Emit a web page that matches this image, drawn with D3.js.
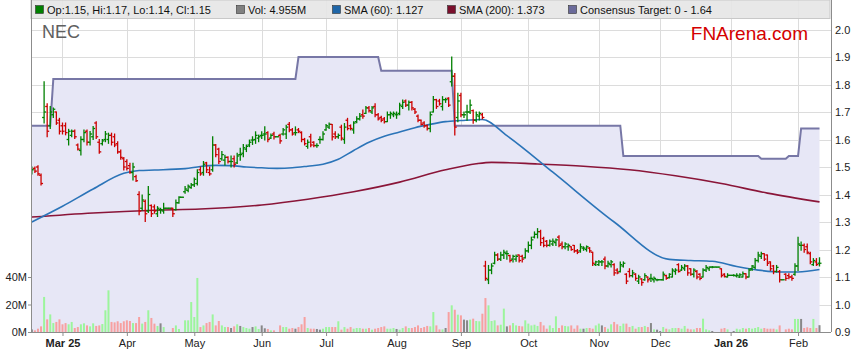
<!DOCTYPE html>
<html>
<head>
<meta charset="utf-8">
<script src="https://cdnjs.cloudflare.com/ajax/libs/d3/7.8.5/d3.min.js"></script>
<style>
  body { margin: 0; background: #fff; }
  svg { display: block; font-family: "Liberation Sans", Arial, sans-serif; }
</style>
</head>
<body>
<svg id="chart" width="859" height="363"></svg>
<script>
// one entry per weekday, 17 Feb 2025 .. 11 Feb 2026 (holidays flat, zero volume)
var opens = [
  1.49,1.495,1.50,1.47,1.68,1.72,1.65,1.69,1.70,1.67,
  1.65,1.65,1.60,1.615,1.63,1.58,1.56,1.60,1.63,1.59,1.61,1.66,1.59,1.585,1.60,1.60,1.615,1.61,1.585,1.555,1.53,
  1.52,1.505,1.48,1.465,1.40,1.35,1.375,1.34,1.36,1.355,1.33,1.345,1.34,1.35,1.35,1.35,1.345,1.37,1.39,1.41,1.415,1.425,
  1.435,1.44,1.49,1.48,1.515,1.48,1.49,1.58,1.565,1.53,1.525,1.535,1.52,1.53,1.515,1.545,1.55,1.565,1.58,1.598,1.60,1.605,
  1.615,1.62,1.625,1.605,1.62,1.61,1.615,1.62,1.62,1.655,1.635,1.625,1.635,1.625,1.60,1.575,1.61,1.59,1.578,1.60,1.60,
  1.635,1.645,1.655,1.62,1.61,1.645,1.60,1.67,1.65,1.635,1.665,1.675,1.69,1.695,1.715,1.70,1.72,1.69,1.68,1.675,1.665,1.69,1.69,
  1.69,1.695,1.72,1.74,1.725,1.735,1.71,1.685,1.67,1.66,1.65,1.64,1.70,1.745,1.74,1.72,1.745,1.75,1.81,1.83,1.68,
  1.76,1.69,1.70,1.70,1.705,1.67,1.685,1.69,1.14,1.09,1.125,1.15,1.18,1.165,1.18,1.185,1.178,1.165,1.165,1.18,1.175,1.17,
  1.195,1.215,1.245,1.255,1.265,1.24,1.23,1.215,1.22,1.225,1.245,1.22,1.21,1.21,1.21,1.215,1.195,1.195,1.205,1.20,1.205,1.19,1.145,
  1.145,1.155,1.165,1.14,1.145,1.145,1.125,1.12,1.14,1.11,1.12,1.105,1.11,1.085,1.093,1.09,1.10,1.095,1.09,1.09,
  1.09,1.09,1.105,1.098,1.10,1.12,1.145,1.125,1.13,1.14,1.13,1.11,1.12,1.11,1.10,1.125,1.13,1.136,1.136,1.136,1.13,1.11,1.10,
  1.106,1.106,1.104,1.10,1.10,1.112,1.10,1.13,1.135,1.16,1.175,1.185,1.18,1.155,1.14,1.12,1.12,1.09,1.11,1.105,1.10,1.11,
  1.14,1.215,1.215,1.21,1.185,1.145,1.155,1.15
];
var highs = [
  1.50,1.50,1.505,1.475,1.81,1.73,1.72,1.715,1.70,1.677,
  1.66,1.66,1.637,1.635,1.635,1.584,1.61,1.635,1.635,1.629,1.647,1.665,1.60,1.60,1.629,1.623,1.623,1.62,1.592,1.562,1.535,
  1.526,1.514,1.514,1.47,1.41,1.398,1.38,1.429,1.362,1.362,1.356,1.35,1.368,1.35,1.35,1.35,1.38,1.392,1.39,1.429,1.435,1.44,
  1.46,1.49,1.50,1.52,1.517,1.50,1.61,1.582,1.568,1.556,1.543,1.537,1.54,1.54,1.55,1.568,1.582,1.58,1.598,1.61,1.628,1.616,
  1.628,1.646,1.628,1.62,1.626,1.61,1.619,1.64,1.652,1.662,1.64,1.646,1.64,1.628,1.604,1.598,1.619,1.592,1.585,1.61,1.628,
  1.655,1.66,1.655,1.628,1.62,1.652,1.658,1.677,1.653,1.665,1.683,1.695,1.707,1.72,1.72,1.72,1.73,1.695,1.685,1.68,1.70,1.70,1.70,
  1.70,1.732,1.744,1.744,1.74,1.738,1.713,1.689,1.671,1.665,1.653,1.70,1.756,1.746,1.746,1.756,1.75,1.752,1.90,1.84,1.768,
  1.768,1.70,1.725,1.744,1.707,1.70,1.70,1.695,1.157,1.142,1.148,1.19,1.185,1.19,1.197,1.195,1.179,1.179,1.18,1.18,1.179,1.203,
  1.227,1.245,1.264,1.276,1.27,1.245,1.233,1.235,1.238,1.238,1.25,1.227,1.225,1.22,1.21,1.215,1.20,1.22,1.21,1.213,1.207,1.19,1.157,
  1.16,1.16,1.173,1.157,1.16,1.148,1.13,1.155,1.155,1.112,1.13,1.124,1.112,1.106,1.094,1.112,1.10,1.11,1.10,1.092,
  1.09,1.118,1.106,1.112,1.13,1.13,1.148,1.142,1.145,1.142,1.13,1.13,1.124,1.112,1.13,1.142,1.136,1.138,1.136,1.136,1.13,1.112,1.112,
  1.106,1.108,1.112,1.112,1.118,1.112,1.13,1.142,1.167,1.19,1.19,1.185,1.18,1.155,1.142,1.142,1.124,1.09,1.112,1.112,1.106,1.148,
  1.245,1.227,1.22,1.22,1.19,1.167,1.167,1.17
];
var lows = [
  1.475,1.48,1.47,1.435,1.66,1.61,1.64,1.68,1.655,1.62,
  1.62,1.617,1.58,1.61,1.604,1.562,1.544,1.592,1.58,1.58,1.60,1.604,1.55,1.58,1.592,1.586,1.58,1.574,1.55,1.528,1.489,
  1.489,1.477,1.453,1.447,1.326,1.344,1.302,1.335,1.32,1.332,1.32,1.332,1.332,1.35,1.35,1.32,1.344,1.368,1.39,1.405,1.41,1.423,
  1.429,1.435,1.47,1.47,1.48,1.47,1.485,1.537,1.513,1.525,1.507,1.515,1.50,1.50,1.513,1.525,1.537,1.556,1.574,1.582,1.586,1.592,
  1.604,1.598,1.592,1.604,1.602,1.61,1.586,1.616,1.604,1.628,1.616,1.616,1.625,1.592,1.58,1.568,1.574,1.574,1.572,1.586,1.598,
  1.634,1.64,1.598,1.604,1.605,1.598,1.586,1.635,1.635,1.623,1.661,1.671,1.677,1.695,1.70,1.695,1.683,1.671,1.665,1.66,1.665,1.677,1.683,
  1.677,1.69,1.713,1.72,1.707,1.707,1.695,1.665,1.653,1.645,1.635,1.628,1.70,1.713,1.725,1.707,1.735,1.72,1.795,1.616,1.665,
  1.683,1.68,1.67,1.695,1.659,1.665,1.671,1.675,1.088,1.076,1.112,1.148,1.16,1.16,1.167,1.165,1.155,1.155,1.157,1.155,1.155,1.169,
  1.19,1.203,1.242,1.242,1.215,1.21,1.21,1.213,1.215,1.215,1.21,1.203,1.203,1.197,1.197,1.19,1.185,1.19,1.197,1.194,1.19,1.142,1.142,
  1.142,1.142,1.13,1.136,1.136,1.106,1.112,1.118,1.136,1.076,1.10,1.10,1.088,1.076,1.07,1.088,1.082,1.084,1.082,1.086,
  1.09,1.088,1.092,1.096,1.10,1.11,1.118,1.124,1.124,1.106,1.106,1.10,1.094,1.09,1.10,1.12,1.124,1.134,1.136,1.136,1.10,1.10,1.10,
  1.106,1.104,1.10,1.098,1.10,1.094,1.10,1.124,1.13,1.155,1.167,1.16,1.142,1.124,1.112,1.118,1.082,1.09,1.088,1.094,1.088,1.106,
  1.124,1.197,1.19,1.185,1.148,1.142,1.142,1.14
];
var closes = [
  1.49,1.485,1.475,1.44,1.70,1.63,1.70,1.71,1.66,1.63,
  1.63,1.625,1.63,1.63,1.61,1.565,1.60,1.625,1.59,1.62,1.64,1.61,1.555,1.595,1.62,1.615,1.59,1.58,1.555,1.535,1.50,
  1.495,1.48,1.50,1.45,1.34,1.38,1.33,1.40,1.33,1.34,1.35,1.345,1.35,1.35,1.35,1.33,1.37,1.39,1.39,1.42,1.43,1.435,
  1.455,1.48,1.475,1.51,1.49,1.475,1.58,1.545,1.52,1.545,1.535,1.52,1.52,1.51,1.54,1.545,1.57,1.575,1.59,1.598,1.615,1.61,
  1.615,1.62,1.60,1.615,1.61,1.61,1.595,1.635,1.645,1.635,1.62,1.625,1.63,1.60,1.585,1.59,1.58,1.578,1.578,1.60,1.62,
  1.65,1.655,1.61,1.61,1.615,1.605,1.645,1.64,1.64,1.66,1.675,1.685,1.685,1.715,1.705,1.715,1.69,1.675,1.67,1.665,1.69,1.695,1.695,
  1.69,1.725,1.735,1.725,1.735,1.715,1.70,1.67,1.655,1.65,1.64,1.69,1.745,1.72,1.73,1.745,1.745,1.725,1.83,1.645,1.74,
  1.69,1.69,1.70,1.725,1.67,1.69,1.695,1.68,1.095,1.125,1.14,1.18,1.165,1.18,1.19,1.185,1.16,1.175,1.175,1.16,1.165,1.195,
  1.215,1.235,1.255,1.265,1.225,1.215,1.215,1.23,1.23,1.235,1.215,1.21,1.22,1.215,1.20,1.195,1.19,1.21,1.205,1.21,1.195,1.15,1.155,
  1.155,1.155,1.14,1.15,1.155,1.115,1.115,1.145,1.15,1.085,1.105,1.115,1.095,1.10,1.08,1.105,1.09,1.095,1.095,1.09,
  1.09,1.11,1.095,1.11,1.125,1.125,1.12,1.135,1.14,1.115,1.11,1.125,1.10,1.095,1.125,1.135,1.136,1.136,1.136,1.136,1.105,1.102,1.106,
  1.106,1.106,1.106,1.108,1.112,1.10,1.125,1.14,1.16,1.18,1.185,1.165,1.15,1.13,1.12,1.135,1.09,1.09,1.095,1.10,1.095,1.14,
  1.22,1.215,1.20,1.19,1.155,1.16,1.145,1.15
];
var volumes = [ // millions
  1.9,1.2,2.4,4.1,25.5,9.2,12.8,6.5,7.3,9.2,
  5.6,6.5,5.6,7.3,2.9,3.6,5.6,6.3,4.8,4.1,6.3,4.4,4.8,5.8,15.8,30.3,7.3,7.0,7.8,6.5,7.8,
  8.5,8.0,6.5,6.5,10.9,6.1,7.3,15.8,10.2,6.1,4.4,6.3,3.6,0,0,2.9,4.8,2.2,0,8.5,8.5,21.8,
  10.9,39.3,3.6,4.8,6.5,7.3,12.8,4.8,8.0,4.8,3.6,3.6,2.9,4.1,5.6,4.4,3.6,2.9,2.4,3.6,4.1,2.2,
  4.8,2.7,2.2,1.2,1.2,0,4.8,3.6,3.6,2.4,2.9,2.4,3.6,5.6,10.9,2.9,2.4,2.4,2.2,1.7,2.4,
  3.6,3.6,3.6,3.6,7.8,1.7,3.6,2.4,3.6,2.4,2.9,2.9,2.4,2.4,2.9,1.7,2.4,2.9,3.6,4.1,2.4,2.4,2.9,
  2.2,1.7,2.9,4.1,2.9,2.9,3.6,4.8,2.9,3.6,4.4,4.1,14.5,4.8,1.9,1.9,2.9,14.5,19.4,16.2,12.6,
  12.1,9.0,8.5,9.0,9.7,8.0,7.8,13.3,24.7,19.4,8.0,8.5,4.8,5.3,17.0,4.1,4.8,6.5,4.8,4.4,4.1,8.5,
  6.1,4.8,5.3,4.4,7.3,4.8,2.4,4.8,2.9,11.4,2.9,4.8,4.4,4.1,4.8,2.4,4.8,2.4,2.4,2.9,2.9,2.4,4.8,
  6.1,4.8,3.6,2.4,5.6,7.3,5.6,4.4,6.1,6.1,3.6,4.4,2.4,3.6,3.6,4.4,3.6,6.5,1.9,1.7,
  0.7,3.6,2.4,1.9,2.9,2.9,2.9,2.4,4.4,2.4,1.9,1.9,2.9,2.9,9.7,1.9,1.2,0.7,0,0,2.4,2.9,1.9,
  0,0.7,2.4,1.9,2.9,2.4,2.9,2.4,2.9,3.6,2.4,2.9,2.4,2.4,2.4,1.9,4.8,0,1.9,2.4,1.9,9.5,
  9.5,9.5,2.9,3.4,2.9,9.5,2.9,4.955
];

// at a few days
var smaDays  = [0,10,20,30,35,40,50,55,60,65,70,75,80,85,90,95,100,105,110,115,120,125,130,135,140,147,155,170,190,208,215,222,230,237,245,250,257];
var sma60    = [1.30,1.357,1.42,1.477,1.487,1.489,1.494,1.502,1.506,1.505,1.50,1.497,1.495,1.497,1.503,1.51,1.528,1.56,1.59,1.612,1.627,1.643,1.655,1.665,1.669,1.673,1.614,1.481,1.30,1.164,1.16,1.157,1.138,1.125,1.118,1.118,1.127];
var sma200Days = [0,20,40,55,75,90,105,120,135,145,150,165,180,195,210,225,240,257];
var sma200   = [1.318,1.333,1.343,1.347,1.362,1.383,1.41,1.445,1.49,1.512,1.517,1.511,1.503,1.49,1.468,1.44,1.405,1.373];

var targetDays = [0,6,7,86,87,113,114,137,138,192,193,237,238,246,247,250,251,257];
var target     = [1.65,1.65,1.82,1.82,1.90,1.90,1.85,1.85,1.65,1.65,1.54,1.54,1.53,1.53,1.54,1.54,1.64,1.64];

var tickDays   = [10,31,53,75,96,119,140,162,185,205,228,250];
var tickLabels = ["Mar 25","Apr","May","Jun","Jul","Aug","Sep","Oct","Nov","Dec","Jan 26","Feb"];
var priceTicks = [0.9,1.0,1.1,1.2,1.3,1.4,1.5,1.6,1.7,1.8,1.9,2.0];
var volTicks   = [0,20,40];

var left = 31, right = 831, plotTop = 0, bottom = 332;

var svg = d3.select("#chart");

var x = d3.scaleLinear().domain([0, 257]).range([31.85, 819.5]);
var y = d3.scaleLinear().domain([0.9, 2.0]).range([bottom, 29.5]);
var yv = d3.scaleLinear().domain([0, 40]).range([bottom, 277]);

svg.append("defs").append("clipPath").attr("id", "plot")
  .append("rect").attr("x", left).attr("y", plotTop).attr("width", right - left).attr("height", bottom - plotTop);

// grid
var grid = svg.append("g").attr("stroke", "#dcdcdc").attr("stroke-width", 1);
grid.selectAll(".h").data(priceTicks).enter().append("line")
  .attr("x1", left).attr("x2", right)
  .attr("y1", function(d) { return Math.round(y(d)) + 0.5; })
  .attr("y2", function(d) { return Math.round(y(d)) + 0.5; });
grid.selectAll(".v").data(tickDays).enter().append("line")
  .attr("y1", plotTop).attr("y2", bottom)
  .attr("x1", function(d) { return Math.round(x(d)) + 0.5; })
  .attr("x2", function(d) { return Math.round(x(d)) + 0.5; });

var plot = svg.append("g").attr("clip-path", "url(#plot)");

// consensus target area + line
var tgt = targetDays.map(function(d, i) { return [d, target[i]]; });
plot.append("path").datum(tgt)
  .attr("fill", "#e7e7f6")
  .attr("d", d3.area().x(function(d) { return x(d[0]); }).y0(bottom).y1(function(d) { return y(d[1]); }));
plot.append("path").datum(tgt)
  .attr("fill", "none").attr("stroke", "#7777a6").attr("stroke-width", 2)
  .attr("d", d3.line().x(function(d) { return x(d[0]); }).y(function(d) { return y(d[1]); }));

// volume
var volBars = plot.append("g");
volumes.forEach(function(v, i) {
  if (!v) return;
  var c = closes[i] > opens[i] ? "#9cf59c" : closes[i] < opens[i] ? "#f7a0a0" : "#888888";
  volBars.append("rect")
    .attr("x", x(i) - 1).attr("width", 2)
    .attr("y", yv(v)).attr("height", bottom - yv(v))
    .attr("fill", c);
});

// moving averages
plot.append("path").datum(sma200Days.map(function(d, i) { return [d, sma200[i]]; }))
  .attr("fill", "none").attr("stroke", "#8a1538").attr("stroke-width", 1.6)
  .attr("d", d3.line().curve(d3.curveMonotoneX).x(function(d) { return x(d[0]); }).y(function(d) { return y(d[1]); }));
plot.append("path").datum(smaDays.map(function(d, i) { return [d, sma60[i]]; }))
  .attr("fill", "none").attr("stroke", "#2b74b8").attr("stroke-width", 1.6)
  .attr("d", d3.line().curve(d3.curveMonotoneX).x(function(d) { return x(d[0]); }).y(function(d) { return y(d[1]); }));

// OHLC bars
var bars = plot.append("g").attr("stroke-width", 1.3);
closes.forEach(function(c, i) {
  var col = c >= opens[i] ? "#008000" : "#cc0000";
  var g = bars.append("g").attr("stroke", col);
  var xi = x(i);
  g.append("line").attr("x1", xi).attr("x2", xi).attr("y1", y(highs[i]) - 0.5).attr("y2", y(lows[i]) + 0.5);
  g.append("line").attr("x1", xi - 2).attr("x2", xi).attr("y1", y(opens[i])).attr("y2", y(opens[i]));
  g.append("line").attr("x1", xi).attr("x2", xi + 2).attr("y1", y(c)).attr("y2", y(c));
});

// legend band
var leg = svg.append("g");
leg.append("rect").attr("x", 31).attr("y", 0).attr("width", 799).attr("height", 18.5)
  .attr("fill", "#e6e6e6").attr("fill-opacity", 0.9).attr("stroke", "#c8c8c8");
var legItems = [
  {c: "#008000", t: "Op:1.15, Hi:1.17, Lo:1.14, Cl:1.15", x: 35},
  {c: "#808080", t: "Vol: 4.955M", x: 236},
  {c: "#1f66a8", t: "SMA (60): 1.127", x: 332},
  {c: "#7a0f2c", t: "SMA (200): 1.373", x: 447},
  {c: "#6a6a9a", t: "Consensus Target: 0 - 1.64", x: 568}
];
legItems.forEach(function(d) {
  leg.append("rect").attr("x", d.x + 0.5).attr("y", 5.5).attr("width", 8).attr("height", 8)
    .attr("fill", d.c).attr("stroke", "#333").attr("stroke-width", 0.6);
  leg.append("text").attr("x", d.x + 12).attr("y", 14).attr("font-size", 11).attr("fill", "#111").text(d.t);
});

// titles
svg.append("text").attr("x", 42).attr("y", 38).attr("font-size", 18).attr("fill", "#606060").text("NEC");
svg.append("text").attr("x", 808).attr("y", 40).attr("text-anchor", "end").attr("font-size", 19)
  .attr("fill", "#d40000").text("FNArena.com");

// axes
var axR = svg.append("g").attr("transform", "translate(" + right + ",0)")
  .call(d3.axisRight(y).tickValues(priceTicks).tickFormat(d3.format(".1f")).tickSize(0).tickPadding(4));
var axL = svg.append("g").attr("transform", "translate(" + left + ",0)")
  .call(d3.axisLeft(yv).tickValues(volTicks).tickFormat(function(d) { return d + "M"; }).tickSize(3).tickPadding(1));
var axB = svg.append("g").attr("transform", "translate(0," + bottom + ")")
  .call(d3.axisBottom(x).tickValues(tickDays).tickFormat(function(d, i) { return tickLabels[i]; }).tickSize(4).tickPadding(3));
[axR, axL, axB].forEach(function(a) {
  a.select(".domain").attr("stroke", "#8c8c8c");
  a.selectAll(".tick line").attr("stroke", "#8c8c8c");
  a.selectAll("text").attr("font-size", 11).attr("fill", "#222").attr("font-family", "Liberation Sans, Arial, sans-serif");
});
axL.select(".domain").attr("d", "M0.5," + bottom + "V0");
axR.select(".domain").attr("d", "M0.5," + bottom + "V0");
axB.select(".domain").attr("d", "M" + left + ",0.5H" + right);
axB.selectAll(".tick text").attr("font-weight", function(d, i) { return (i === 0 || i === 10) ? "bold" : "normal"; });
</script>
</body>
</html>
